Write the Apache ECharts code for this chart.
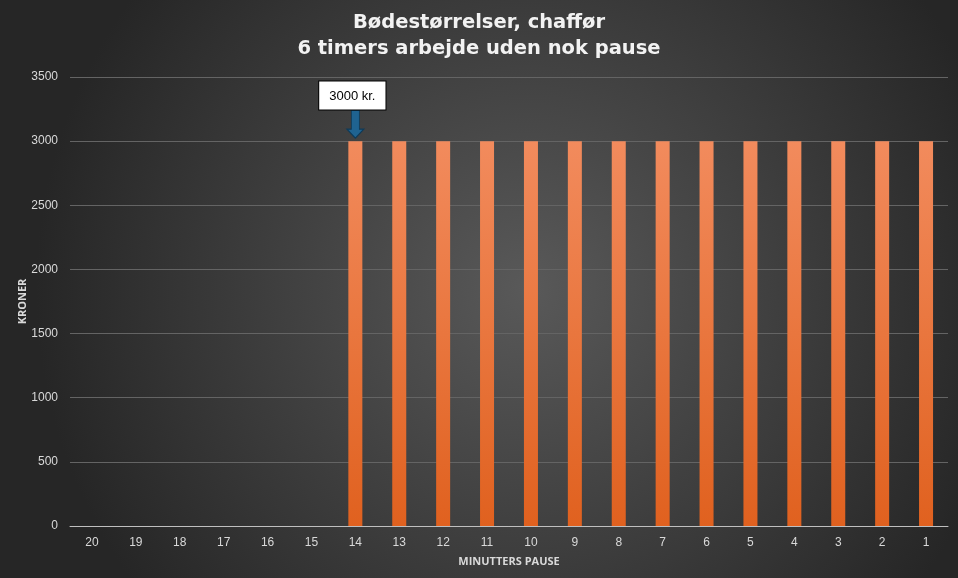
<!DOCTYPE html>
<html>
<head>
<meta charset="utf-8">
<script src="https://cdn.jsdelivr.net/npm/echarts@6/dist/echarts.min.js"></script>
<style>
  html, body { margin: 0; padding: 0; }
  #main { width: 958px; height: 578px; }
</style>
</head>
<body>
<div id="main"></div>
<script>
// minutter pause (fra 20 ned til 1) og bøde i kroner
var minutter = ['20','19','18','17','16','15','14','13','12','11','10','9','8','7','6','5','4','3','2','1'];
var boede = [0, 0, 0, 0, 0, 0, 3000, 3000, 3000, 3000, 3000, 3000, 3000, 3000, 3000, 3000, 3000, 3000, 3000, 3000];
var yTicks = [0, 500, 1000, 1500, 2000, 2500, 3000, 3500];
var callout = { kategori: '14', vaerdi: 3000, tekst: '3000 kr.' };

var myChart = echarts.init(document.getElementById('main'));

var option = {
    backgroundColor: {
        type: 'radial', x: 0.55, y: 0.5, r: 0.85,
        colorStops: [
            {offset: 0, color: '#595959'},
            {offset: 1, color: '#262626'}
        ]
    },
    title: {
        text: 'Bødestørrelser, chaffør\n6 timers arbejde uden nok pause',
        left: 'center',
        top: 5,
        textStyle: {
            color: '#f2f2f2',
            fontFamily: 'DejaVu Sans',
            fontWeight: 'bold',
            fontSize: 19.5,
            lineHeight: 26
        }
    },
    grid: {
        left: 70,
        right: 10,
        top: 77,
        bottom: 52
    },
    xAxis: {
        type: 'category',
        data: minutter,
        name: 'MINUTTERS PAUSE',
        nameLocation: 'middle',
        nameGap: 30,
        nameTextStyle: {
            color: '#d9d9d9',
            fontWeight: 'bold',
            fontSize: 11,
            fontFamily: 'Open Sans'
        },
        axisLine: { lineStyle: { color: '#bfbfbf', width: 1 } },
        axisTick: { show: false },
        axisLabel: { color: '#d9d9d9', fontSize: 12, margin: 11, fontFamily: 'Liberation Sans' }
    },
    yAxis: {
        type: 'value',
        min: yTicks[0],
        max: yTicks[yTicks.length - 1],
        interval: 500,
        name: 'KRONER',
        nameLocation: 'middle',
        nameGap: 42,
        nameMoveOverlap: false,
        nameTextStyle: {
            color: '#d9d9d9',
            fontWeight: 'bold',
            fontSize: 11,
            fontFamily: 'Open Sans'
        },
        axisLine: { show: false },
        axisTick: { show: false },
        axisLabel: {
            color: '#d9d9d9', fontSize: 12, margin: 12, fontFamily: 'Liberation Sans',
            formatter: function (v) { return String(v); }
        },
        splitLine: { lineStyle: { color: '#646464', width: 1 } }
    },
    series: [
        {
            type: 'bar',
            data: boede,
            barWidth: 14,
            itemStyle: {
                color: {
                    type: 'linear', x: 0, y: 0, x2: 0, y2: 1,
                    colorStops: [
                        {offset: 0, color: '#f28b5d'},
                        {offset: 1, color: '#e0611f'}
                    ]
                },
                shadowBlur: 4,
                shadowColor: 'rgba(0,0,0,0.45)',
                shadowOffsetX: 2
            },
            markPoint: {
                symbol: 'path://M4.5,0L12.5,0L12.5,19L17,19L8.5,28L0,19L4.5,19Z',
                symbolSize: [17, 28],
                symbolOffset: [0, -17],
                itemStyle: {
                    color: '#1f6391',
                    borderColor: '#0e3a58',
                    borderWidth: 1
                },
                label: {
                    show: true,
                    position: 'top',
                    distance: 0,
                    offset: [-3, 0],
                    formatter: callout.tekst,
                    color: '#000',
                    fontSize: 13,
                    fontFamily: 'Liberation Sans',
                    backgroundColor: '#fff',
                    borderColor: '#000',
                    borderWidth: 1,
                    padding: [8, 10, 7, 10]
                },
                data: [
                    { coord: [callout.kategori, callout.vaerdi] }
                ]
            }
        }
    ]
};
myChart.setOption(option);
</script>
</body>
</html>
